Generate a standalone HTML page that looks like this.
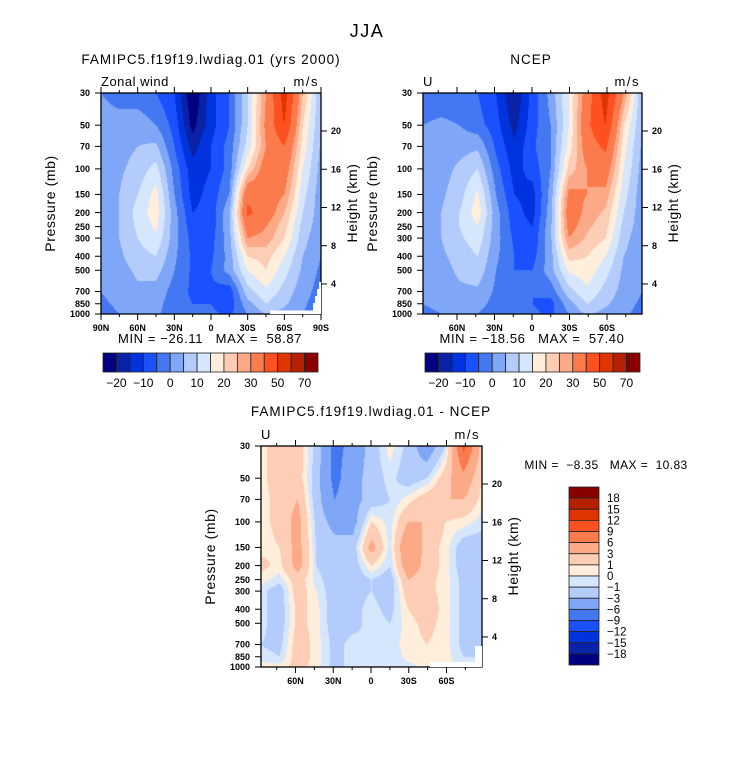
<!DOCTYPE html>
<html><head><meta charset="utf-8">
<style>
body{margin:0;background:#fff;width:733px;height:760px;overflow:hidden;position:relative;font-family:"Liberation Sans",sans-serif}
canvas{position:absolute}
svg{position:absolute;left:0;top:0}
text{white-space:pre}
</style></head>
<body>
<canvas id="c1" width="220" height="221" style="left:101px;top:93px"></canvas>
<canvas id="c2" width="219" height="221" style="left:423px;top:93px"></canvas>
<canvas id="c3" width="221" height="221" style="left:261px;top:446px"></canvas>
<svg id="ov" width="733" height="760"></svg>
<script>
const pressures=[30,50,70,100,150,200,250,300,400,500,700,850,1000];
const pressureLabels=["30","50","70","100","150","200","250","300","400","500","700","850","1000"];
const heightTicks=[4,8,12,16,20];
const latTicks1=[90,60,30,0,-30,-60,-90];
const latLabels1=["90N","60N","30N","0","30S","60S","90S"];
const latTicks2=[60,30,0,-30,-60];
const latLabels2=["60N","30N","0","30S","60S"];
const levelsAbs=[-20,-15,-10,-5,0,5,10,15,20,25,30,40,50,60,70];
const levelLabelsAbs=["-20","-10","0","10","20","30","50","70"];
const levelsDiff=[-18,-15,-12,-9,-6,-3,-1,0,1,3,6,9,12,15,18];
const colors=["#000080","#0a22a6","#0033dd","#1a50ff","#4478f2","#80a6f8","#b3ccfc","#d6e6fc","#ffeedc","#fdcdb5","#fca987","#fb7b4d","#ff5020","#e03500","#b52000","#8a0000"];
// rows = pressures (30..1000), cols = 13 evenly spaced latitudes N->S
const model=[
[0,-2,-3,-5,-10,-25,-12,-5,10,30,55,25,5],
[2,2,3,0,-7,-22,-12,-5,10,32,50,20,5],
[2,3,5,6,-5,-17,-10,-3,12,30,40,18,4],
[2,4,7,12,-2,-13,-10,-3,20,35,35,15,3],
[2,5,10,17,0,-12,-8,0,38,35,30,12,2],
[2,5,12,18,2,-10,-8,4,42,35,25,10,2],
[2,5,11,16,2,-8,-8,4,35,30,22,8,2],
[2,5,10,14,2,-7,-7,3,30,28,20,7,1],
[1,4,8,10,1,-6,-6,2,20,22,15,5,0],
[1,3,6,7,0,-6,-5,2,15,20,12,4,-1],
[0,2,4,3,-2,-6,-6,-8,8,14,8,2,-2],
[-1,1,2,2,-3,-5,-5,-8,3,10,6,1,-3],
[-2,0,1,1,-3,-4,-4,-6,0,5,3,0,-3]];
const ncep=[
[-3,-3,-3,-5,-10,-20,-8,2,15,35,55,30,5],
[0,1,0,-3,-8,-17,-7,0,15,38,50,20,5],
[2,3,3,4,-6,-14,-6,0,17,35,42,17,4],
[2,3,6,10,-3,-12,-8,0,22,30,35,15,3],
[2,4,8,16,0,-10,-12,2,32,30,28,12,2],
[2,5,10,18,2,-8,-12,3,35,28,24,10,2],
[2,5,10,15,2,-7,-10,4,33,26,22,8,2],
[2,5,9,13,2,-6,-9,4,30,24,20,7,1],
[1,4,7,10,1,-5,-7,3,22,20,15,5,1],
[1,3,6,8,0,-5,-5,3,16,18,12,4,0],
[1,2,4,4,-1,-4,-5,-3,8,14,8,3,0],
[0,1,2,2,-2,-4,-5,-7,3,10,6,2,-1],
[-1,0,1,0,-3,-3,-4,-6,0,6,3,1,-2]];
const diff=[
[0.5,2,2,-1.5,-7,-5,-2,0.5,-1.5,-5,-1,10,2],
[0.5,2,2,-2,-7,-4,-2,-0.5,-2,-1,2,5,1],
[0.5,1.5,3,-2,-6,-4,-2,-1,0.5,2,3,3,0.5],
[0.5,1.5,4,-1.5,-4,-4,1,-0.5,3,3,1,0.5,-0.5],
[0.5,1,4,-1,-2,-2,4,-0.5,6,2,0.5,-2,-2],
[1.5,0.5,4,-1,-2,-2,1,-1,5,2,0.5,-2,-2],
[0.5,-0.5,2,-0.5,-2,-2,-1,-2,3,1.5,0.5,-1.5,-2],
[-0.5,-2,2,0,-2,-1.5,-1,-2,2,1.5,0.5,-1.5,-2],
[-0.5,-2,1.5,0.5,-2,-1.5,-0.5,-1.5,1,2,0.5,-1.5,-2],
[-0.5,-2,1.5,0.5,-2,-1.5,-0.5,-1,0.5,1.5,0.5,-1.5,-2],
[-1,-1.5,2,0.5,-1.5,-0.5,-1,-0.5,0.5,1,0.5,-1.5,-1.5],
[-0.5,-1,2,0.5,-1.5,-0.5,-1,-1,0.5,0.5,0.5,-1,-1],
[0.5,0.5,1.5,0.5,-1.5,-0.5,-0.5,-1,-0.5,0.5,0.5,-0.5,-0.5]];

const L0=Math.log(30),L1=Math.log(1000);
function pFrac(p){return (Math.log(p)-L0)/(L1-L0);}
const rowF=pressures.map(pFrac);
function colorFor(v,lv){let i=0;while(i<lv.length&&v>=lv[i])i++;return colors[i];}
function hex(c){return [parseInt(c.substr(1,2),16),parseInt(c.substr(3,2),16),parseInt(c.substr(5,2),16)];}
function drawField(id,grid,lv){
  const cv=document.getElementById(id),ctx=cv.getContext('2d'),W=cv.width,H=cv.height;
  const img=ctx.createImageData(W,H);const nc=grid[0].length;
  for(let y=0;y<H;y++){
    const f=(y+0.5)/H;let r=0;while(r<rowF.length-2&&f>rowF[r+1])r++;
    const t=Math.min(1,Math.max(0,(f-rowF[r])/(rowF[r+1]-rowF[r])));
    for(let x=0;x<W;x++){
      const cx=(x+0.5)/W*(nc-1);let c=Math.min(nc-2,Math.floor(cx));const s=cx-c;
      const a=grid[r][c]*(1-s)+grid[r][c+1]*s,b=grid[r+1][c]*(1-s)+grid[r+1][c+1]*s;
      const v=a*(1-t)+b*t;const rgb=hex(colorFor(v,lv));const k=(y*W+x)*4;
      img.data[k]=rgb[0];img.data[k+1]=rgb[1];img.data[k+2]=rgb[2];img.data[k+3]=255;}
  }
  ctx.putImageData(img,0,0);
}
drawField('c1',model,levelsAbs);drawField('c2',ncep,levelsAbs);drawField('c3',diff,levelsDiff);

const NS='http://www.w3.org/2000/svg',ov=document.getElementById('ov');
function el(tag,attrs,txt){const e=document.createElementNS(NS,tag);for(const k in attrs)e.setAttribute(k,attrs[k]);if(txt!==undefined)e.textContent=txt;ov.appendChild(e);return e;}
function txt(x,y,s,size,anchor,name,extra){const e=el('text',Object.assign({x:x,y:y,'font-size':size,'text-anchor':anchor||'middle',fill:'#000'},extra||{}),s);

return e;}

function panel(L,T,W,H,latC,pxDeg,ticks,labels,name,leftT,missing){
  const g=el('rect',{x:L,y:T,width:W,height:H,fill:'none',stroke:'#000','stroke-width':1.3});
  
  
  if(missing){const m=el('polygon',{points:missing,fill:'#fff'});
    
    }
  const yOf=p=>T+pFrac(p)*H;
  pressures.forEach((p,i)=>{const y=yOf(p);el('line',{x1:L-6,x2:L,y1:y,y2:y,stroke:'#000'});
    txt(L-11,y+3.2,pressureLabels[i],9,'end',name+'-pressure-tick-label',{'font-weight':'bold'});});
  heightTicks.forEach(h=>{const y=T+38+(20-h)*9.56;el('line',{x1:L+W,x2:L+W+6,y1:y,y2:y,stroke:'#000'});
    txt(L+W+10,y+3.2,String(h),9,'start',name+'-height-tick-label',{'font-weight':'bold'});});
  for(let lat=-90;lat<=90;lat+=15){const x=latC-lat*pxDeg;if(x<L-0.5||x>L+W+0.5)continue;const len=lat%30===0?6:3;
    el('line',{x1:x,x2:x,y1:T+H,y2:T+H+len,stroke:'#000'});el('line',{x1:x,x2:x,y1:T,y2:T-len,stroke:'#000'});}
  ticks.forEach((lat,i)=>{const x=latC-lat*pxDeg;txt(x,T+H+17,labels[i],9,'middle',name+'-lat-tick-label',{'font-weight':'bold'});});
  txt(0,0,'Pressure (mb)',14,'middle',name+'-y-axis-title',{transform:`translate(${L-46},${T+H/2}) rotate(-90)`,'letter-spacing':'0.6'});
  txt(0,0,'Height (km)',14,'middle',name+'-right-axis-title',{transform:`translate(${L+W+36},${T+110}) rotate(-90)`,'letter-spacing':'0.6'});
  txt(L,T-7,leftT,13,'start',name+'-field-label',{'letter-spacing':'0.5'});
  txt(L+W-2,T-7,'m/s',13,'end',name+'-units-label',{'letter-spacing':'1.5'});
}
txt(367,37,'JJA',18,'middle','figure-title',{'letter-spacing':'1.5'});
txt(211,64,'FAMIPC5.f19f19.lwdiag.01 (yrs 2000)',13.5,'middle','model-panel-title',{'letter-spacing':'1'});
txt(531,64,'NCEP',13.5,'middle','ncep-panel-title',{'letter-spacing':'1'});
txt(371,416,'FAMIPC5.f19f19.lwdiag.01 - NCEP',13.5,'middle','difference-panel-title',{'letter-spacing':'1'});
panel(101,93,220,221,211,220/180,latTicks1,latLabels1,'model-panel','Zonal wind','270,310.5 313,310.5 313,303 315,303 315,296 317,296 317,289 319,289 319,282 321,282 321,314 270,314');
panel(423,93,219,221,532,1.25,latTicks2,latLabels2,'ncep-panel','U',null);
panel(261,446,221,221,371,1.258,latTicks2,latLabels2,'difference-panel','U','430,662 475,662 475,646 482,646 482,667 430,667');
txt(210,343,'MIN = \u221226.11   MAX =  58.87',13,'middle','model-min-max',{'letter-spacing':'0.6'});
txt(532,343,'MIN = \u221218.56   MAX =  57.40',13,'middle','ncep-min-max',{'letter-spacing':'0.6'});
txt(606,469,'MIN =  \u22128.35   MAX =  10.83',12,'middle','difference-min-max',{'letter-spacing':'0.4'});

function hbar(L,T,W,H,name){const bw=W/colors.length;
  colors.forEach((c,i)=>{const r=el('rect',{x:L+i*bw,y:T,width:bw,height:H,fill:c,stroke:'#222','stroke-width':0.8});
    
    });
  levelLabelsAbs.forEach((s,i)=>{const x=L+(2*i+1)*bw;txt(x,T+H+15,s.replace('-','\u2212'),12,'middle',name+'-label');});
}
hbar(103,353,215,19,'model-colorbar');
hbar(425,353,215,19,'ncep-colorbar');
(function(){const L=569,T=487,W=30,H=178,bh=H/colors.length;
  colors.slice().reverse().forEach((c,i)=>{const r=el('rect',{x:L,y:T+i*bh,width:W,height:bh,fill:c,stroke:'#222','stroke-width':0.8});
    
    });
  levelsDiff.slice().reverse().forEach((v,i)=>{const y=T+(i+1)*bh;txt(L+W+8,y+4,String(v).replace('-','\u2212'),11.5,'start','difference-colorbar-label');});
})();
</script>
</body></html>
